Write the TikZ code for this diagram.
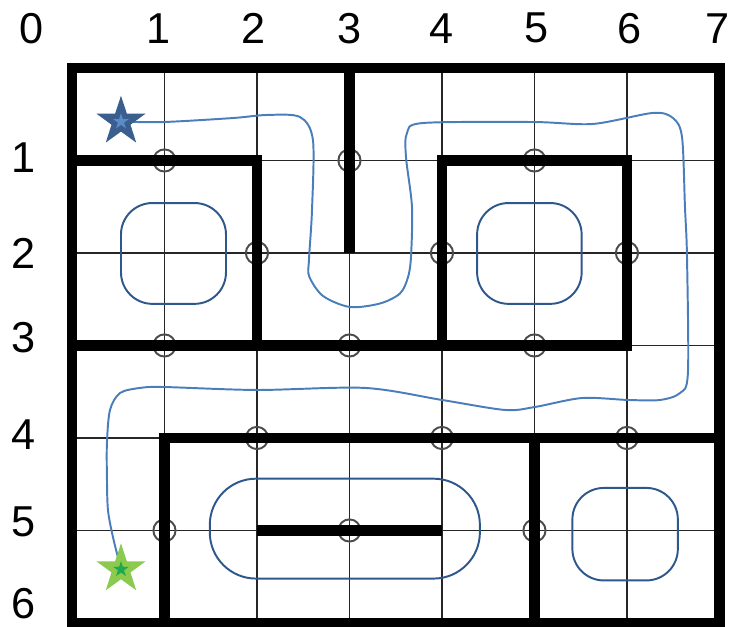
\documentclass[tikz,border=0pt]{standalone}
\usepackage{fontspec}
\setmainfont{Liberation Sans}
\usetikzlibrary{shapes.geometric}
\definecolor{mzroute}{RGB}{74,126,187}
\definecolor{mzloop}{RGB}{46,88,140}
\definecolor{mzstart}{RGB}{58,94,142}
\definecolor{mzstartin}{RGB}{90,140,200}
\definecolor{mzgoal}{RGB}{140,202,78}
\definecolor{mzgoalin}{RGB}{30,168,80}
\newcommand{\mazestar}[4]{%
  \node[bigstar,fill=#3] (#1) at (#2) {};
  \node[smallstar,fill=#4] (#1in) at (#1.center) {};
}
\newcommand{\mazeloop}[3]{%
  \draw[loopline,rounded corners=#3] #1 rectangle #2;
}

\begin{document}
\begin{tikzpicture}[x=1cm,y=-1cm,
    gridline/.style={black!85,line width=.5pt},
    wall/.style={line width=3.3pt},
    crossing/.style={black!70,line width=.6pt},
    loopline/.style={mzloop,line width=.6pt},
    route/.style={mzroute,line width=.6pt},
    numlabel/.style={font=\fontsize{13.3}{16}\selectfont,inner sep=0pt},
    bigstar/.style={star,star points=5,star point ratio=2.6,minimum size=.56cm,inner sep=0pt},
    smallstar/.style={star,star points=5,star point ratio=2.6,minimum size=.18cm,inner sep=0pt}]
  \useasboundingbox (-.778,-.735) rectangle (7.168,6.043);
  % coordinates along the edges
  \node[numlabel] (col0) at (-.44,-.43) {0};
  \foreach \i/\xx in {1/.94,2/1.96,3/3,4/4,5/5.02,6/6.03,7/6.98}
    \node[numlabel] (col\i) at (\xx,-.43) {\i};
  \foreach \j/\yy in {1/.97,2/2,3/2.92,4/3.96,5/4.91,6/5.79}
    \node[numlabel] (row\j) at (-.52,\yy) {\j};
  % grid and crossings
  \foreach \i in {1,...,6} \draw[gridline] (\i,0) -- (\i,6);
  \foreach \j in {1,...,5} \draw[gridline] (0,\j) -- (7,\j);
  \foreach \i/\j in {1/1,3/1,5/1,2/2,4/2,6/2,1/3,3/3,5/3,2/4,4/4,6/4,1/5,3/5,5/5}
    \draw[crossing] (\i,\j) circle[radius=.12];
  % walls
  \draw[wall] (0,0) rectangle (7,6);
  \draw[wall] (3,0) -- (3,2);
  \draw[wall] (0,1) -- (2,1) -- (2,3);
  \draw[wall] (0,3) -- (6,3) -- (6,1) -- (4,1) -- (4,3);
  \draw[wall] (1,6) -- (1,4) -- (7,4);
  \draw[wall] (5,4) -- (5,6);
  \draw[wall] (2,5) -- (4,5);
  % closed loops
  \mazeloop{(.53,1.46)}{(1.665,2.55)}{.34cm}
  \mazeloop{(4.38,1.46)}{(5.51,2.55)}{.34cm}
  \mazeloop{(5.41,4.54)}{(6.55,5.54)}{.34cm}
  \mazeloop{(1.49,4.44)}{(4.41,5.52)}{.5cm}
  % route from start to goal
  \coordinate (start) at (.53,.58);
  \coordinate (goal) at (.53,5.42);
  \draw[route] plot[smooth,tension=.5] coordinates {(start) (.995,.584) (1.741,.541)
    (2.108,.508) (2.465,.53) (2.605,.778) (2.595,1.535) (2.562,2.076) (2.565,2.254)
    (2.714,2.465) (3.005,2.584) (3.33,2.546) (3.546,2.438) (3.632,2.265) (3.665,2.043)
    (3.676,1.503) (3.611,.962) (3.622,.703)
    (3.795,.595) (4.984,.584) (5.632,.605) (6.281,.486) (6.497,.541) (6.595,.746)
    (6.627,1.503) (6.649,2.043) (6.659,3.297) (6.573,3.514) (6.357,3.589) (6.011,3.589)
    (5.514,3.568) (5.005,3.665) (4.681,3.697) (4,3.589) (3.168,3.459) (2,3.481)
    (.995,3.449) (.735,3.459) (.519,3.514) (.411,3.697) (.378,4.054) (.378,4.422)
    (.389,4.778) (.443,5.07) (goal)};
  \mazestar{startstar}{start}{mzstart}{mzstartin}
  \mazestar{goalstar}{goal}{mzgoal}{mzgoalin}
\end{tikzpicture}
\end{document}
